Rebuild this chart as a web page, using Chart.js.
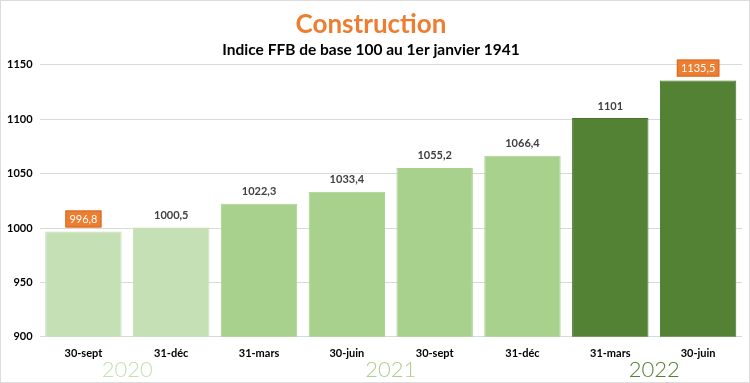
<!DOCTYPE html>
<html>
<head>
<meta charset="utf-8">
<script src="https://cdn.jsdelivr.net/npm/chart.js@4"></script>
<style>
  html, body { margin: 0; padding: 0; background: #fff; }
  canvas { display: block; }
</style>
</head>
<body>
<canvas id="ffbChart" width="750" height="383"></canvas>
<script>
// Data
const categories = ['30-sept', '31-déc', '31-mars', '30-juin', '30-sept', '31-déc', '31-mars', '30-juin'];
const values = [996.8, 1000.5, 1022.3, 1033.4, 1055.2, 1066.4, 1101, 1135.5];
const years = ['2020', '2021', '2022'];
const yearFirst = [0, 2, 6];   // first category of each year
const yearLast = [1, 5, 7];    // last category of each year
const highlighted = [0, 7];    // labels shown in an orange box
const yTicks = [900, 950, 1000, 1050, 1100, 1150];

const yearColors = ['#c5e0b4', '#a9d18e', '#548235'];
const yearBorders = ['#c5e0b4', '#a9d18e', '#46702b'];
const yearTextColors = ['#c5e0b4', '#a9d18e', '#548235'];

function yearOf(i) {
    for (let k = 0; k < years.length; k++) {
        if (i >= yearFirst[k] && i <= yearLast[k]) return k;
    }
    return 0;
}

const fontName = 'Lato, "Open Sans", sans-serif';

// labels above bars + year row + thin frame
const extrasPlugin = {
    id: 'extras',
    afterDatasetsDraw(chart) {
        const ctx = chart.ctx;
        const meta = chart.getDatasetMeta(0);
        ctx.save();
        ctx.font = 'bold 11px ' + fontName;
        ctx.textAlign = 'center';
        ctx.textBaseline = 'middle';
        meta.data.forEach((bar, i) => {
            const txt = String(values[i]).replace('.', ',');
            const y = bar.y - 12;
            if (highlighted.includes(i)) {
                const w = ctx.measureText(txt).width + 8;
                ctx.fillStyle = '#ed7d31';
                ctx.fillRect(bar.x - w / 2, y - 9, w, 17);
                ctx.strokeStyle = '#d8691f';
                ctx.lineWidth = 1;
                ctx.strokeRect(bar.x - w / 2 + 0.5, y - 8.5, w - 1, 16);
                ctx.fillStyle = '#ffffff';
                ctx.font = '11px ' + fontName;
                ctx.fillText(txt, bar.x, y);
                ctx.font = 'bold 11px ' + fontName;
            } else {
                ctx.fillStyle = '#404040';
                ctx.fillText(txt, bar.x, y);
            }
        });

        // year row under the category labels
        const xs = chart.scales.x;
        ctx.font = '300 22px ' + fontName;
        years.forEach((yr, k) => {
            const x = (xs.getPixelForValue(yearFirst[k]) + xs.getPixelForValue(yearLast[k])) / 2;
            ctx.fillStyle = yearTextColors[k];
            ctx.fillText(yr, x, chart.chartArea.bottom + 33);
        });

        // light frame around the picture
        ctx.strokeStyle = '#dcdcdc';
        ctx.lineWidth = 1;
        ctx.strokeRect(0.5, 0.5, chart.width - 1, chart.height - 1);
        ctx.restore();
    }
};

const ctx = document.getElementById('ffbChart').getContext('2d');
const ffbChart = new Chart(ctx, {
    type: 'bar',
    data: {
        labels: categories,
        datasets: [{
            data: values,
            backgroundColor: values.map((v, i) => yearColors[yearOf(i)]),
            borderColor: values.map((v, i) => yearBorders[yearOf(i)]),
            borderWidth: 1,
            barPercentage: 0.87,
            categoryPercentage: 1.0
        }]
    },
    options: {
        responsive: false,
        animation: false,
        layout: { padding: { left: 0, right: 8, top: 0, bottom: 21 } },
        plugins: {
            legend: { display: false },
            tooltip: { enabled: false },
            title: {
                display: true,
                text: 'Construction',
                color: '#ed7d31',
                font: { family: fontName, size: 26, weight: 'bold' },
                padding: { top: 9, bottom: 0 }
            },
            subtitle: {
                display: true,
                text: 'Indice FFB de base 100 au 1er janvier 1941',
                color: '#000000',
                font: { family: fontName, size: 15.5, weight: 'bold' },
                padding: { top: 0, bottom: 6 }
            }
        },
        scales: {
            x: {
                grid: { display: false },
                border: { display: false },
                ticks: {
                    color: '#000000',
                    font: { family: fontName, size: 11, weight: 'bold' },
                    padding: 2,
                    maxRotation: 0,
                    autoSkip: false
                }
            },
            y: {
                min: yTicks[0],
                max: yTicks[yTicks.length - 1],
                afterBuildTicks(axis) {
                    axis.ticks = yTicks.map(v => ({ value: v }));
                },
                grid: { color: '#d9d9d9', drawTicks: false },
                border: { display: false },
                ticks: {
                    color: '#000000',
                    font: { family: fontName, size: 11, weight: 'bold' },
                    padding: 7,
                    callback: v => String(v)
                }
            }
        }
    },
    plugins: [extrasPlugin]
});
</script>
</body>
</html>
